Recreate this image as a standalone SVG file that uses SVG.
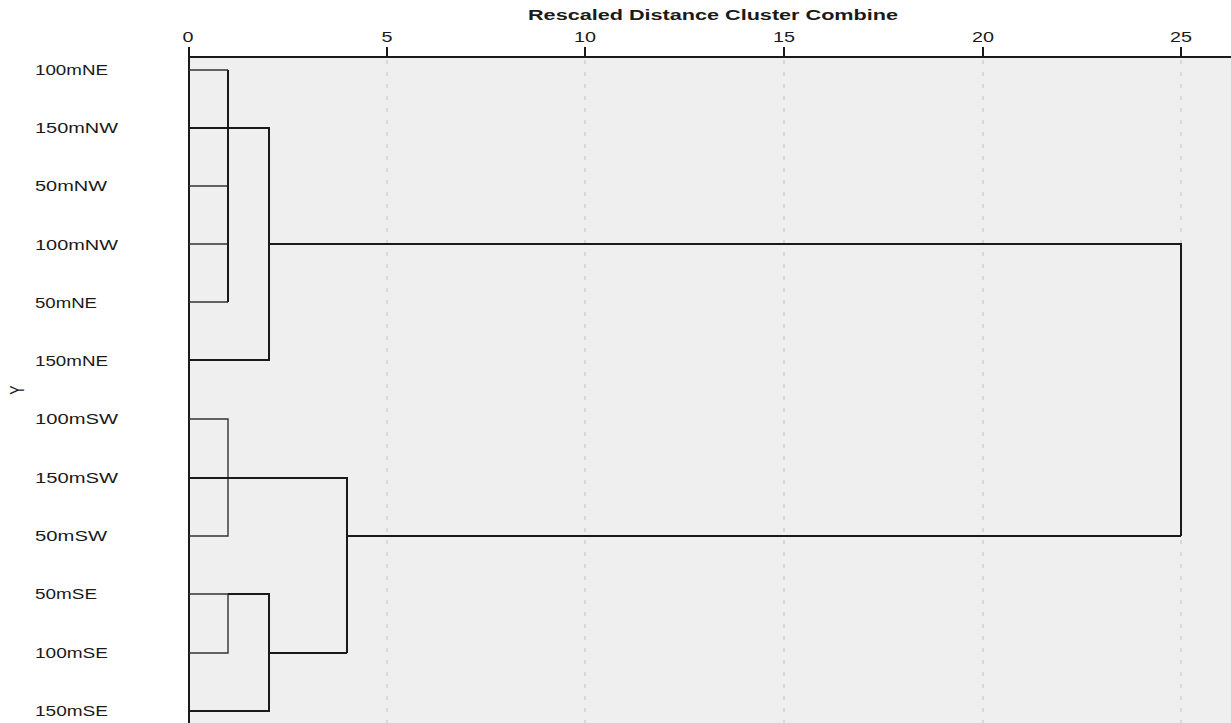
<svg xmlns="http://www.w3.org/2000/svg" width="1231" height="723" viewBox="0 0 1231 723">
<style>
text{font-family:"Liberation Sans",Arial,sans-serif;fill:#1a1a1a}
.lbl{font-size:14px}
.tick{font-size:14px;text-anchor:middle}
.title{font-size:14px;font-weight:bold;text-anchor:middle}
.grid{stroke:#c8c8c8;stroke-width:1.2;stroke-dasharray:4 8;fill:none}
.thin{stroke:#333;stroke-width:1.4;fill:none}
.thick{stroke:#1a1a1a;stroke-width:2;fill:none}
.axis{stroke:#1a1a1a;stroke-width:2;fill:none}
</style>
<rect x="0" y="0" width="1231" height="723" fill="#ffffff"/>
<rect x="189" y="57" width="1042" height="666" fill="#efefef"/>
<g id="grid">
<line class="grid" x1="387" y1="60" x2="387" y2="723"/>
<line class="grid" x1="585" y1="60" x2="585" y2="723"/>
<line class="grid" x1="784" y1="60" x2="784" y2="723"/>
<line class="grid" x1="983" y1="60" x2="983" y2="723"/>
<line class="grid" x1="1181" y1="60" x2="1181" y2="723"/>
</g>
<g id="axis">
<text class="title" x="713" y="20" textLength="370" lengthAdjust="spacingAndGlyphs">Rescaled Distance Cluster Combine</text>
<line class="axis" x1="189" y1="57" x2="1231" y2="57"/>
<line class="axis" x1="189" y1="47" x2="189" y2="723"/>
<line class="axis" x1="387" y1="47" x2="387" y2="57"/>
<line class="axis" x1="585" y1="47" x2="585" y2="57"/>
<line class="axis" x1="784" y1="47" x2="784" y2="57"/>
<line class="axis" x1="983" y1="47" x2="983" y2="57"/>
<line class="axis" x1="1181" y1="47" x2="1181" y2="57"/>
<text class="tick" x="188" y="42" textLength="11" lengthAdjust="spacingAndGlyphs">0</text>
<text class="tick" x="387" y="42" textLength="11" lengthAdjust="spacingAndGlyphs">5</text>
<text class="tick" x="585" y="42" textLength="22" lengthAdjust="spacingAndGlyphs">10</text>
<text class="tick" x="784" y="42" textLength="22" lengthAdjust="spacingAndGlyphs">15</text>
<text class="tick" x="983" y="42" textLength="22" lengthAdjust="spacingAndGlyphs">20</text>
<text class="tick" x="1181" y="42" textLength="22" lengthAdjust="spacingAndGlyphs">25</text>
<text transform="translate(24,390) scale(1.4,1) rotate(-90)" style="font-size:14px;text-anchor:middle">Y</text>
</g>
<g id="labels">
<g id="n-100mNE"><text class="lbl" x="35" y="75" textLength="73" lengthAdjust="spacingAndGlyphs">100mNE</text></g>
<g id="n-150mNW"><text class="lbl" x="35" y="133" textLength="83" lengthAdjust="spacingAndGlyphs">150mNW</text></g>
<g id="n-50mNW"><text class="lbl" x="35" y="191" textLength="72" lengthAdjust="spacingAndGlyphs">50mNW</text></g>
<g id="n-100mNW"><text class="lbl" x="35" y="250" textLength="83" lengthAdjust="spacingAndGlyphs">100mNW</text></g>
<g id="n-50mNE"><text class="lbl" x="35" y="308" textLength="62" lengthAdjust="spacingAndGlyphs">50mNE</text></g>
<g id="n-150mNE"><text class="lbl" x="35" y="366" textLength="73" lengthAdjust="spacingAndGlyphs">150mNE</text></g>
<g id="n-100mSW"><text class="lbl" x="35" y="424" textLength="83" lengthAdjust="spacingAndGlyphs">100mSW</text></g>
<g id="n-150mSW"><text class="lbl" x="35" y="483" textLength="83" lengthAdjust="spacingAndGlyphs">150mSW</text></g>
<g id="n-50mSW"><text class="lbl" x="35" y="541" textLength="72" lengthAdjust="spacingAndGlyphs">50mSW</text></g>
<g id="n-50mSE"><text class="lbl" x="35" y="599" textLength="62" lengthAdjust="spacingAndGlyphs">50mSE</text></g>
<g id="n-100mSE"><text class="lbl" x="35" y="658" textLength="73" lengthAdjust="spacingAndGlyphs">100mSE</text></g>
<g id="n-150mSE"><text class="lbl" x="35" y="716" textLength="73" lengthAdjust="spacingAndGlyphs">150mSE</text></g>
</g>
<g id="connectors">
<!-- NE/NW cluster at distance 1 -->
<path class="thin" d="M189,70H228M189,186H228M189,244H228M189,302H228"/>
<path class="thick" d="M228,70V302"/>
<!-- join with 150mNE at distance 2 -->
<path class="thick" d="M189,128H269V360H189"/>
<!-- top cluster to root -->
<path class="thick" d="M269,244H1181V536"/>
<!-- SW cluster -->
<path class="thin" d="M189,419H228V536H189"/>
<path class="thick" d="M189,478H347V653"/>
<!-- SE cluster -->
<path class="thin" d="M189,594H228V653H189"/>
<path class="thick" d="M228,594H269V711H189"/>
<path class="thick" d="M269,653H347"/>
<!-- bottom cluster to root -->
<path class="thick" d="M347,536H1181"/>
</g>
</svg>
